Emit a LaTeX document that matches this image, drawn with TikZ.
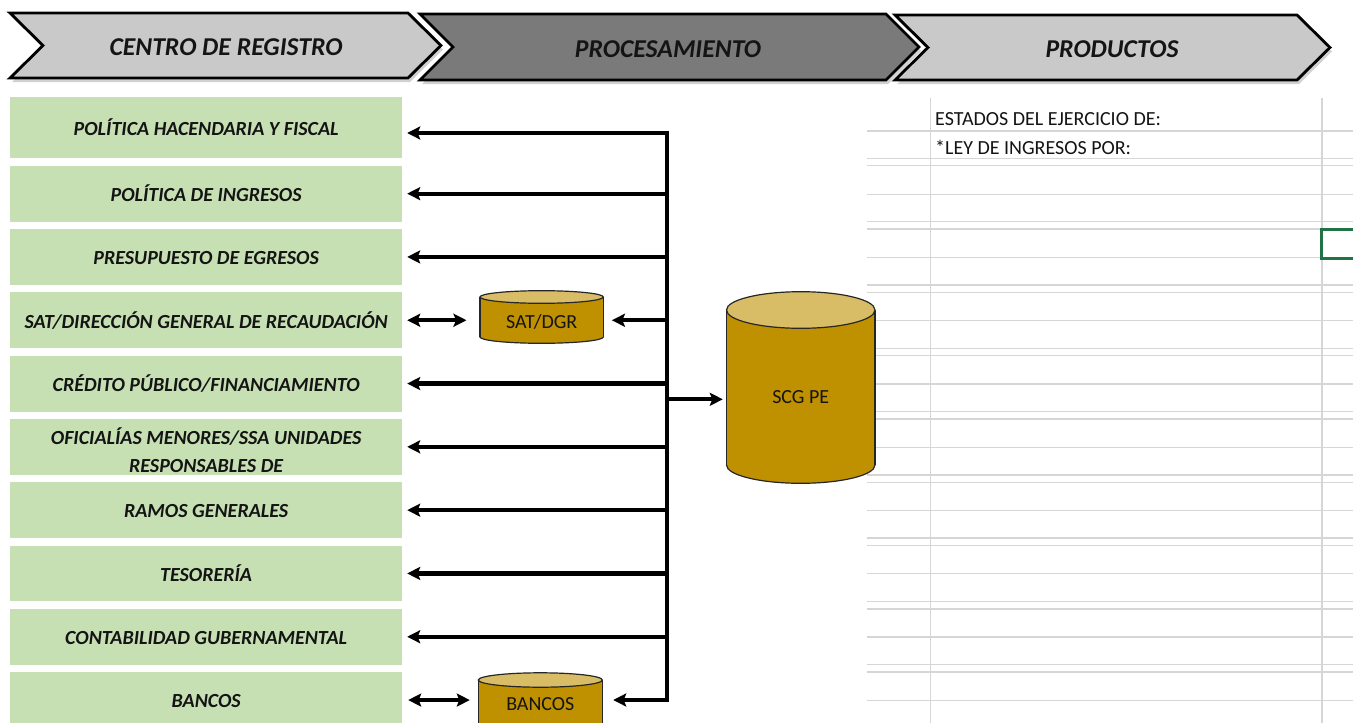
\documentclass[tikz,border=0pt]{standalone}
\usepackage{fontspec}
\setmainfont{Carlito}
\usetikzlibrary{arrows.meta,calc}
\definecolor{gfill}{HTML}{C6E0B4}
\definecolor{chlight}{HTML}{C9C9C9}
\definecolor{chdark}{HTML}{7A7A7A}
\definecolor{cylbody}{HTML}{BF9000}
\definecolor{cyltop}{HTML}{D9BD66}
\definecolor{gridc}{HTML}{D6D6D6}
\definecolor{selc}{HTML}{217346}
\definecolor{txt}{HTML}{141414}
\newcommand\mycyl[5]{%
  \filldraw[cylbody, draw=black!85, line width=1.2pt] ({(#1+#2)/2},#4) ellipse [x radius={(#2-#1)/2}, y radius=#5];
  \fill[cylbody] (#1,#3) rectangle (#2,#4);
  \draw[black!85, line width=1.2pt] (#1,#3) -- (#1,#4) (#2,#3) -- (#2,#4);
  \filldraw[fill=cyltop, draw=black!85, line width=1.2pt] ({(#1+#2)/2},#3) ellipse [x radius={(#2-#1)/2}, y radius=#5];
}
\begin{document}
\begin{tikzpicture}[x=1pt,y=-1pt,
  chevron/.style={draw=black, line width=2.8pt, line join=miter},
  chshadow/.style={fill=black, opacity=0.18},
  hdr/.style={font=\fontsize{25.7}{30}\selectfont\bfseries\itshape, text=txt, text height=20pt, text depth=0pt, inner sep=0pt},
  gbox/.style={fill=gfill, minimum width=392.3pt, minimum height=55.9pt, inner sep=0pt,
    font=\fontsize{20}{28}\selectfont\bfseries\itshape, text=txt},
  oneline/.style={text height=15.5pt, text depth=0pt},
  cyltext/.style={font=\fontsize{20}{24}\selectfont, text=txt, text height=12.6pt, text depth=0pt, inner sep=0pt},
  rtext/.style={font=\fontsize{20}{24}\selectfont, text=txt, text height=12.6pt, text depth=0pt, inner sep=0pt, anchor=west},
  grid/.style={draw=gridc, line width=1.4pt},
  selcell/.style={draw=selc, line width=2.6pt},
  arr/.style={line width=4.2pt, line join=miter, -{Stealth[length=13pt,width=13pt,inset=2.5pt]}},
  darr/.style={line width=4.2pt, {Stealth[length=13pt,width=13pt,inset=2.5pt]}-{Stealth[length=13pt,width=13pt,inset=2.5pt]}}
]
\useasboundingbox (0,0) rectangle (1353,723);
\fill[white] (0,0) rectangle (1353,723);

% ---- spreadsheet grid (right part)
\foreach \k in {0,...,9} {\draw[grid] (866.7,{131+63.25*\k}) -- (1353,{131+63.25*\k});}
\foreach \k in {0,...,8} {
  \draw[grid] (866.7,{158.3+63.3*\k}) -- (1353,{158.3+63.3*\k});
  \draw[grid] (866.7,{165.7+63.3*\k}) -- (1353,{165.7+63.3*\k});
}
\draw[grid] (930.5,98) -- (930.5,723);
\draw[grid] (1322,98) -- (1322,723);
\draw[selcell] (1321.5,229.5) rectangle (1358,258.5);

% ---- header chevrons
\begin{scope}[shift={(2,4)}]
  \fill[chshadow] (10,13) -- (408,13) -- (441,45.5) -- (408,78) -- (10,78) -- (43,45.5) -- cycle;
  \fill[chshadow] (420,14) -- (886,14) -- (919,47) -- (886,80) -- (420,80) -- (453,47) -- cycle;
  \fill[chshadow] (895,15) -- (1297,15) -- (1330,47.5) -- (1297,80) -- (895,80) -- (928,47.5) -- cycle;
\end{scope}
\filldraw[chevron, fill=chlight] (10,13) -- (408,13) -- (441,45.5) -- (408,78) -- (10,78) -- (43,45.5) -- cycle;
\filldraw[chevron, fill=chdark] (420,14) -- (886,14) -- (919,47) -- (886,80) -- (420,80) -- (453,47) -- cycle;
\filldraw[chevron, fill=chlight] (895,15) -- (1297,15) -- (1330,47.5) -- (1297,80) -- (895,80) -- (928,47.5) -- cycle;
\node[hdr] (h1) at (226,45) {CENTRO DE REGISTRO};
\node[hdr] (h2) at (668,47) {PROCESAMIENTO};
\node[hdr] (h3) at (1112,47.5) {PRODUCTOS};

% ---- left column boxes
\node[gbox, oneline, minimum height=61.6pt] (b0) at (206.15,127.5) {POLÍTICA HACENDARIA Y FISCAL};
\node[gbox, oneline] (b1) at (206.15,{130.35+63.3*1}) {POLÍTICA DE INGRESOS};
\node[gbox, oneline] (b2) at (206.15,{130.35+63.3*2}) {PRESUPUESTO DE EGRESOS};
\node[gbox, oneline] (b3) at (206.15,{130.35+63.3*3}) {SAT/DIRECCIÓN GENERAL DE RECAUDACIÓN};
\node[gbox, oneline] (b4) at (206.15,{130.35+63.3*4}) {CRÉDITO PÚBLICO/FINANCIAMIENTO};
\node[gbox, align=center] (b5) at (206.15,{130.35+63.3*5}) {\rule{0pt}{23pt}OFICIALÍAS MENORES/SSA UNIDADES\\RESPONSABLES DE};
\node[gbox, oneline] (b6) at (206.15,{130.35+63.3*6}) {RAMOS GENERALES};
\node[gbox, oneline] (b7) at (206.15,{130.35+63.3*7}) {TESORERÍA};
\node[gbox, oneline] (b8) at (206.15,{130.35+63.3*8}) {CONTABILIDAD GUBERNAMENTAL};
\node[gbox, oneline] (b9) at (206.15,{130.35+63.3*9}) {BANCOS};

% ---- cylinders
\mycyl{480}{603.3}{297}{337}{6.3}
\node[cyltext, minimum width=123.3pt] (sat) at (541.65,321.7) {SAT/DGR};
\mycyl{726.5}{875}{310}{465}{18.3}
\node[cyltext, minimum width=148.5pt] (scg) at (800.75,396.7) {SCG PE};
\mycyl{478.3}{602.3}{680}{745}{7.2}
\node[cyltext, minimum width=124pt] (banc) at (540.3,704) {BANCOS};

% ---- right texts
\node[rtext] (e1) at (935,119.3) {ESTADOS DEL EJERCICIO DE:};
\node[rtext] (e2) at (935,147.7) {*LEY DE INGRESOS POR:};

% ---- connectors
\coordinate (t) at (666.7,133);
\coordinate (u) at (666.7,700);
\coordinate (j) at (666.7,399.3);
\draw[arr, shorten >=4.7pt] (u) -- (t) -- (b0.east |- t);
\foreach \b in {b1,b2,b4,b5,b6,b7,b8} {\draw[arr, shorten >=4.7pt] (t |- \b.east) -- (\b.east);}
\draw[darr, shorten <=4.7pt, shorten >=13.3pt] (b3.east) -- (b3.east -| sat.west);
\draw[arr, shorten >=8.4pt] (t |- b3.east) -- (b3.east -| sat.east);
\draw[arr, shorten >=3.5pt] (j) -- (j -| scg.west);
\draw[darr, shorten <=5.7pt, shorten >=8.3pt] (b9.east) -- (b9.east -| banc.west);
\draw[arr, shorten >=10.7pt] (t) -- (u) -- (u -| banc.east);
\end{tikzpicture}
\end{document}
